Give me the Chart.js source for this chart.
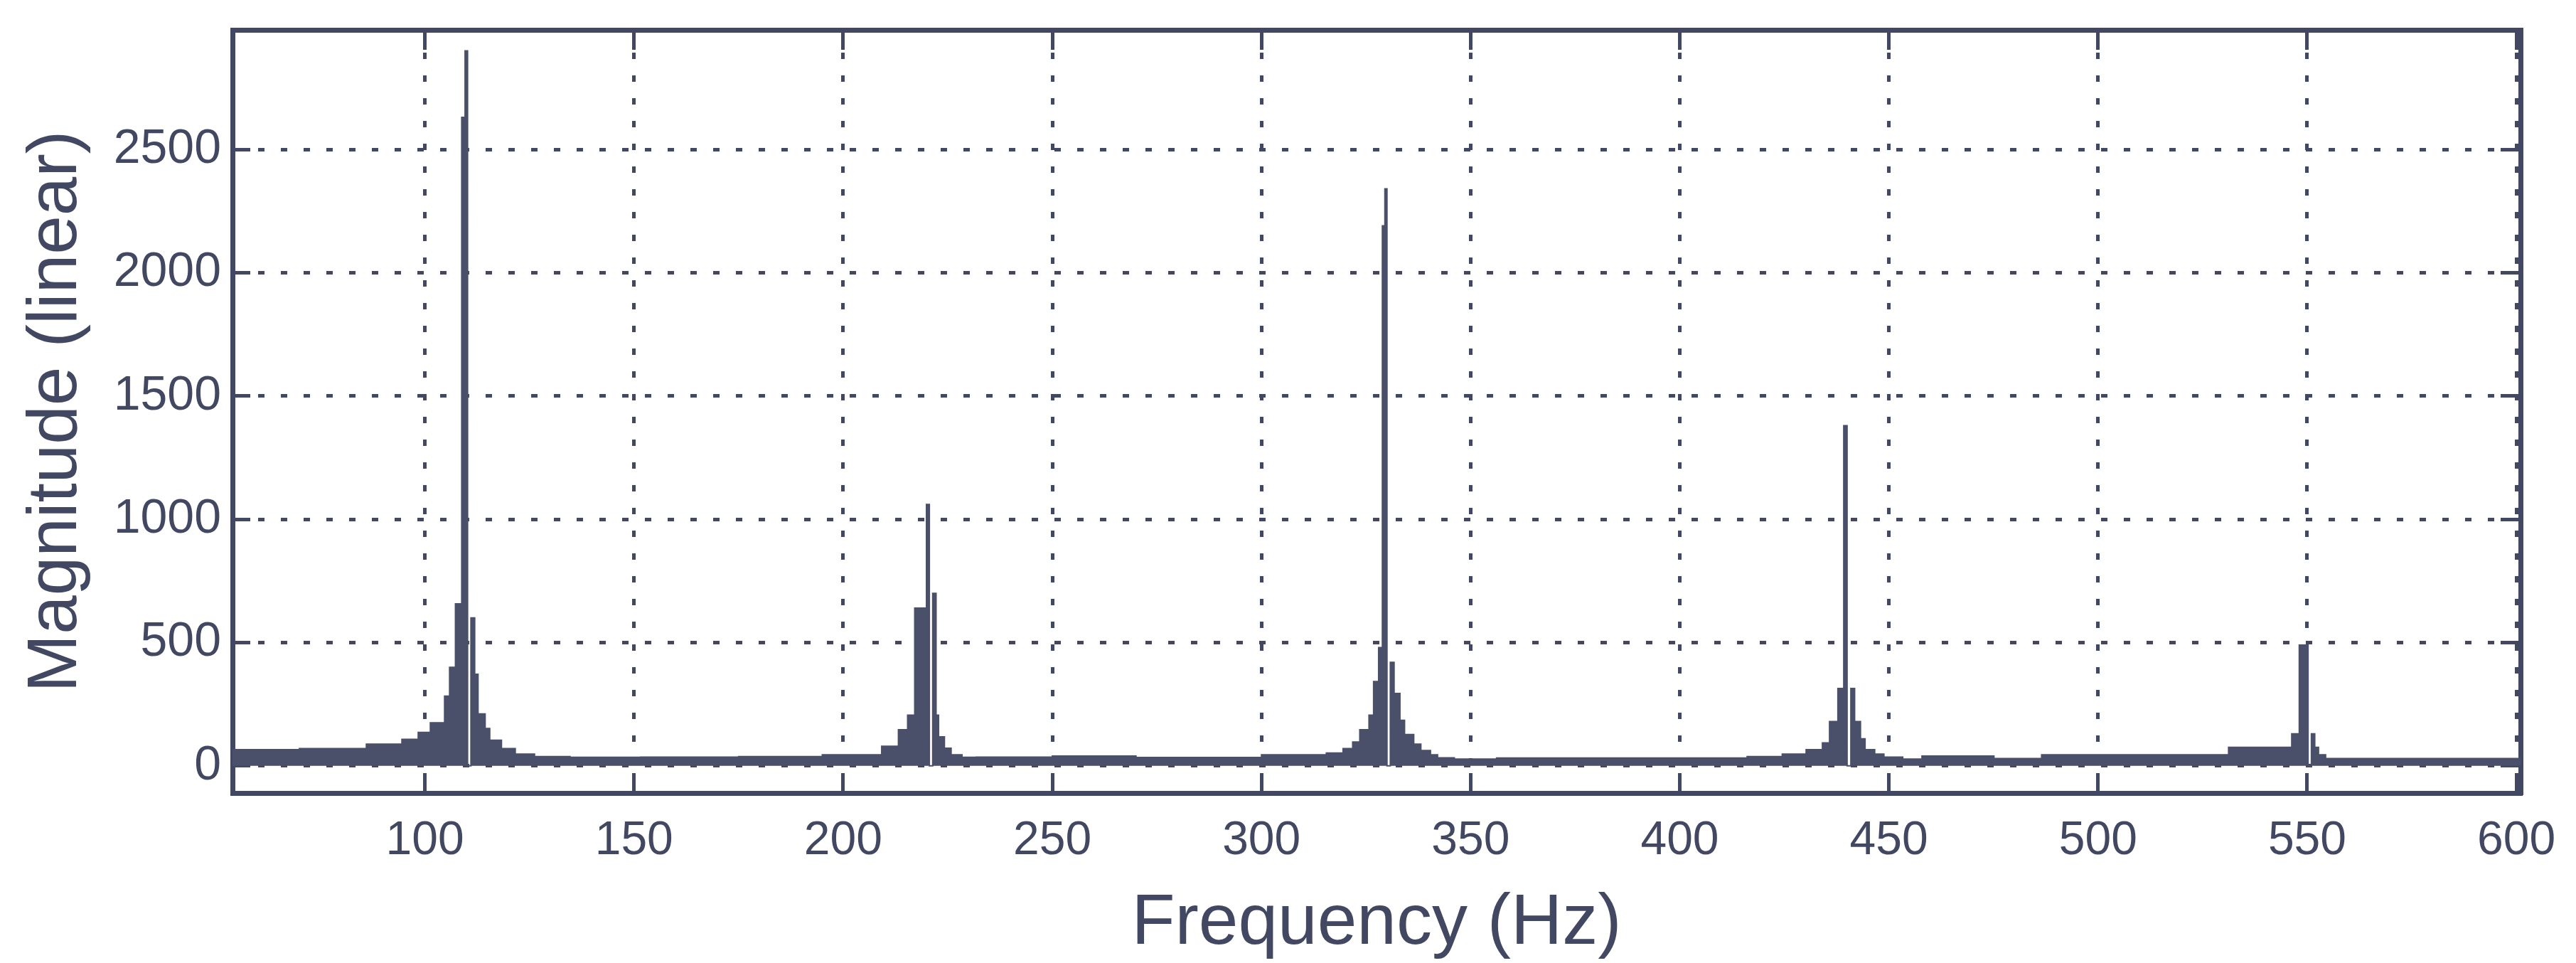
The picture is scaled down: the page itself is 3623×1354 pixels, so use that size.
<!DOCTYPE html>
<html>
<head>
<meta charset="utf-8">
<title>Magnitude spectrum</title>
<script src="https://cdn.jsdelivr.net/npm/chart.js@4.4.1/dist/chart.umd.min.js"></script>
<style>
  html, body { margin: 0; padding: 0; background: #fff; }
  #espectro { display: block; }
</style>
</head>
<body>
<canvas id="espectro" width="3623" height="1354"></canvas>
<script>
// bin start (Hz) and magnitude (stairs, one value per bin)
const freqHz = [
  54, 70, 86, 94.5, 98.4, 101.3, 104.7, 105.9, 107.3, 108.8, 109.6, 110.2, 111, 111.9,
  112.7, 114.4, 115.5, 118.3, 121.6, 126.2, 134.7, 151.6, 175, 195,
  209.2, 213.2, 215.4, 217.1, 219.9, 220.6, 221.4, 222.2, 222.8, 224.2, 225.8, 228.4, 231.8,
  250, 270, 300,
  315.5, 319.5, 321.8, 323.5, 325.7, 326.8, 328, 328.9, 329.5, 330, 330.8, 331.7, 333.1,
  334.2, 336.4, 338.1, 340.4, 342.1, 346.1, 356.2,
  416.1, 424.5, 430.2, 434.1, 435.8, 437.8, 439.2, 440, 440.9, 441.8, 443.2, 444.3, 446.6,
  448.8, 453.3, 457.9,
  475.1, 486.5, 531.2, 546.3, 548.1, 550.2, 551, 551.8, 552.7, 554.4, 560.7, 601
];
const magnitude = [
  72, 66, 70, 88, 108, 136, 175, 283, 400, 657, 2630, 2900, 0, 600,
  372, 211, 152, 104, 70, 48, 38, 35, 36, 38,
  45, 80, 147, 206, 640, 1060, 0, 700, 206, 118, 72, 45, 35,
  36, 40, 34,
  45, 52, 70, 97, 147, 206, 342, 480, 2190, 2340, 0, 420, 294,
  185, 127, 88, 62, 45, 33, 28,
  32, 38, 48, 66, 93, 180, 314, 1380, 0, 314, 180, 110, 66,
  48, 36, 28,
  40, 30, 45, 75, 130, 490, 0, 130, 75, 45, 30, 30
];
const xTicks = [100, 150, 200, 250, 300, 350, 400, 450, 500, 550, 600];
const yTicks = [0, 500, 1000, 1500, 2000, 2500];
const xLabel = "Frequency (Hz)";
const yLabel = "Magnitude (linear)";

const ink = "#434862";
const trace = "#4a4f6a";
const family = "'Liberation Sans', Arial, sans-serif";

const ctx = document.getElementById("espectro").getContext("2d");

// ticks point into the plot, like the original
const gridStyle = {
  color: ink,
  lineWidth: 5,
  drawTicks: true,
  tickLength: -28,
  tickColor: ink,
  tickWidth: 5
};
const frame = { display: true, color: ink, width: 7, dash: [9, 23] };
const xRange = { type: "linear", min: 54, max: 601 };
const yRange = { type: "linear", min: -110, max: 2985 };
const setXTicks = (s) => { s.ticks = xTicks.map((v) => ({ value: v })); };
const setYTicks = (s) => { s.ticks = yTicks.map((v) => ({ value: v })); };

new Chart(ctx, {
  type: "line",
  data: {
    datasets: [
      {
        data: freqHz.map((f, i) => ({ x: f, y: magnitude[i] })),
        stepped: "after",
        fill: "origin",
        borderColor: trace,
        backgroundColor: trace,
        borderWidth: 2,
        pointRadius: 0,
        xAxisID: "x",
        yAxisID: "y",
      },
    ],
  },
  options: {
    responsive: false,
    devicePixelRatio: 1,
    animation: false,
    layout: { padding: 0, autoPadding: false },
    plugins: { legend: { display: false }, tooltip: { enabled: false } },
    scales: {
      x: {
        ...xRange,
        position: "bottom",
        weight: 1,
        afterBuildTicks: setXTicks,
        afterFit: (s) => { s.height = 239; },
        grid: { ...gridStyle, drawTicks: false },
        border: frame,
        ticks: {
          color: ink,
          font: { family, size: 66 },
          padding: 28,
          maxRotation: 0,
          autoSkip: false,
          callback: (v) => String(v),
        },
        title: {
          display: true,
          text: xLabel,
          color: ink,
          font: { family, size: 100, lineHeight: 1.1 },
          padding: { top: 0, bottom: 0 },
        },
      },
      // inner tick marks along the bottom edge
      xIn: {
        ...xRange,
        position: "bottom",
        weight: 0,
        afterBuildTicks: setXTicks,
        afterFit: (s) => { s.height = 0; },
        grid: { ...gridStyle, drawOnChartArea: false },
        border: { display: false },
        ticks: { display: false },
      },
      x2: {
        ...xRange,
        position: "top",
        afterBuildTicks: setXTicks,
        afterFit: (s) => { s.height = 42; },
        grid: { ...gridStyle, drawOnChartArea: false },
        border: frame,
        ticks: { display: false },
      },
      y: {
        ...yRange,
        position: "left",
        afterBuildTicks: setYTicks,
        afterFit: (s) => { s.width = 327; },
        grid: { ...gridStyle, tickLength: -25 },
        border: frame,
        ticks: {
          color: ink,
          font: { family, size: 68, lineHeight: 0.02 },
          padding: 41,
          callback: (v) => String(v),
        },
        title: {
          display: true,
          text: yLabel,
          color: ink,
          font: { family, size: 98, lineHeight: 1.1 },
          padding: { top: 26, bottom: 0 },
        },
      },
      y2: {
        ...yRange,
        position: "right",
        afterBuildTicks: setYTicks,
        afterFit: (s) => { s.width = 78; },
        grid: { ...gridStyle, drawOnChartArea: false },
        border: frame,
        ticks: { display: false },
      },
    },
  },
});
</script>
</body>
</html>
